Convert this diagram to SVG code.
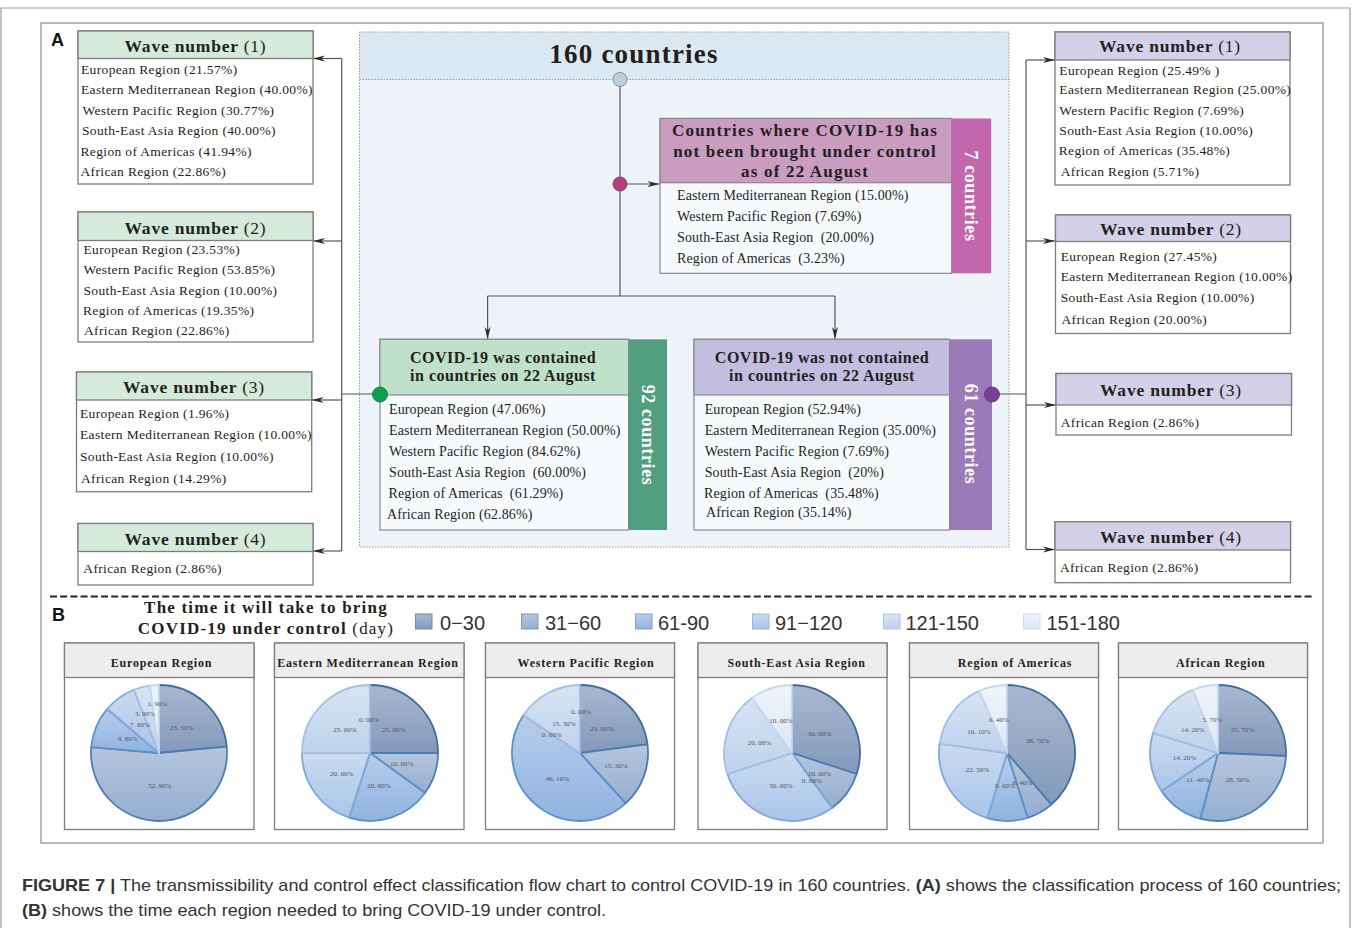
<svg xmlns="http://www.w3.org/2000/svg" width="1357" height="928" viewBox="0 0 1357 928">
<defs>
<style>
.serif{font-family:"Liberation Serif","Times New Roman",serif;fill:#231f20}
.b13{font-size:13.5px;letter-spacing:0.35px}
.b14{font-size:14px;letter-spacing:0.12px}
.wt{font-size:17.5px;font-weight:bold;letter-spacing:0.8px;text-anchor:middle}
.nb{font-weight:normal}
.box{fill:#fff;stroke:#7d7d7d;stroke-width:1.3}
.hL{fill:#d4eada;stroke:#7d7d7d;stroke-width:1.3}
.hR{fill:#d3d0e8;stroke:#7d7d7d;stroke-width:1.3}
.con{fill:none;stroke:#555;stroke-width:1.2}
.side{font-family:"Liberation Serif","Times New Roman",serif;font-size:18px;font-weight:bold;fill:#fff;letter-spacing:0.6px;text-anchor:middle}
.ch{font-size:17px;font-weight:bold;letter-spacing:1.2px;text-anchor:middle}
.gh{font-size:16px;font-weight:bold;letter-spacing:0.5px;text-anchor:middle}
.ph{fill:#ededed;stroke:#7d7d7d;stroke-width:1.3}
.pb{fill:#fff;stroke:#7d7d7d;stroke-width:1.3}
.pt{font-size:12px;font-weight:bold;letter-spacing:0.8px;text-anchor:middle}
.pl{font-family:"Liberation Serif",serif;font-size:7px;fill:#555;text-anchor:middle}
.pie path{stroke-width:1.8;stroke-linejoin:round}
.s1{fill:url(#g1);stroke:#3f6d9e}
.s2{fill:url(#g2);stroke:#4a7db3}
.s3{fill:url(#g3);stroke:#5a90cc}
.s4{fill:url(#g4);stroke:#7ea7da}
.s5{fill:url(#g5);stroke:#a3bfe3}
.s6{fill:url(#g6);stroke:#c7d7ee}
.leg{font-family:"Liberation Sans",Arial,sans-serif;font-size:20px;fill:#333}
.cap{font-family:"Liberation Sans",Arial,sans-serif;font-size:17px;fill:#333}
</style>
<linearGradient id="g1" x1="0" y1="0" x2="0" y2="1"><stop offset="0" stop-color="#a9b8d0"/><stop offset="1" stop-color="#8399bb"/></linearGradient>
<linearGradient id="g2" x1="0" y1="0" x2="0" y2="1"><stop offset="0" stop-color="#b5c6dd"/><stop offset="1" stop-color="#95aed0"/></linearGradient>
<linearGradient id="g3" x1="0" y1="0" x2="0" y2="1"><stop offset="0" stop-color="#b7ceec"/><stop offset="1" stop-color="#90b3e0"/></linearGradient>
<linearGradient id="g4" x1="0" y1="0" x2="0" y2="1"><stop offset="0" stop-color="#cadbf0"/><stop offset="1" stop-color="#a9c5ea"/></linearGradient>
<linearGradient id="g5" x1="0" y1="0" x2="0" y2="1"><stop offset="0" stop-color="#d8e4f3"/><stop offset="1" stop-color="#bdd2ee"/></linearGradient>
<linearGradient id="g6" x1="0" y1="0" x2="0" y2="1"><stop offset="0" stop-color="#eff4fa"/><stop offset="1" stop-color="#dde7f5"/></linearGradient>
<marker id="arr" markerUnits="userSpaceOnUse" markerWidth="13" markerHeight="8" refX="12" refY="4" orient="auto">
<path d="M0,1 L12,4 L0,7 L3.5,4 Z" fill="#2b2b2b"/>
</marker>
</defs>

<rect x="0" y="0" width="1357" height="928" fill="#fff"/>
<path d="M1,928 V8 H1350 V928" fill="none" stroke="#9a9a9a" stroke-width="1.2"/>
<rect x="41" y="23" width="1282" height="820" fill="none" stroke="#a8a8a8" stroke-width="1.6"/>

<text x="51" y="46" font-family="Liberation Sans,Arial,sans-serif" font-size="18" font-weight="bold" fill="#111">A</text>
<text x="52" y="621" font-family="Liberation Sans,Arial,sans-serif" font-size="18" font-weight="bold" fill="#111">B</text>

<!-- Center container -->
<g id="root160">
<rect x="359.5" y="32" width="649.5" height="515" fill="#edf3f9"/>
<rect x="359.5" y="32" width="649.5" height="47.5" fill="#dce8f1"/>
<rect x="359.5" y="32" width="649.5" height="515" fill="none" stroke="#9a9a9a" stroke-width="1" stroke-dasharray="1.5,1.5"/>
<line x1="359.5" y1="79.5" x2="1009" y2="79.5" stroke="#9a9a9a" stroke-width="1" stroke-dasharray="1.5,1.5"/>
<text x="634" y="63" class="serif" font-size="27" font-weight="bold" letter-spacing="1.2" text-anchor="middle">160 countries</text>
</g>

<!-- Connectors -->
<g id="connectors">
<path class="con" d="M620,80 V296"/>
<path class="con" d="M487.6,296 H835"/>
<path class="con" d="M487.6,296 V339" marker-end="url(#arr)"/>
<path class="con" d="M835,296 V339" marker-end="url(#arr)"/>
<path class="con" d="M620,184 H659.5" marker-end="url(#arr)"/>
<path class="con" d="M380,394 H341.7"/>
<path class="con" d="M341.7,58.5 V551"/>
<path class="con" d="M341.7,58.5 H313" marker-end="url(#arr)"/>
<path class="con" d="M341.7,241 H313" marker-end="url(#arr)"/>
<path class="con" d="M341.7,400 H311.7" marker-end="url(#arr)"/>
<path class="con" d="M341.7,551 H313" marker-end="url(#arr)"/>
<path class="con" d="M992,394 H1026"/>
<path class="con" d="M1026,60 V549.5"/>
<path class="con" d="M1026,60 H1055" marker-end="url(#arr)"/>
<path class="con" d="M1026,241 H1055" marker-end="url(#arr)"/>
<path class="con" d="M1026,405 H1056" marker-end="url(#arr)"/>
<path class="con" d="M1026,549.5 H1055" marker-end="url(#arr)"/>
</g>

<!-- Not controlled box -->
<g id="notcontrolled">
<rect x="660" y="118.5" width="291.7" height="154.8" fill="#f7fafc" stroke="#8a8a8a" stroke-width="1.2"/>
<rect x="660" y="118.5" width="291.7" height="64.2" fill="#c99cc0" stroke="#8a8a8a" stroke-width="1.2"/>
<rect x="951.7" y="118.5" width="39.5" height="154.8" fill="#c266ad"/>
<text class="serif ch" x="805" y="135.5">Countries where COVID-19 has</text>
<text class="serif ch" x="805" y="156.5">not been brought under control</text>
<text class="serif ch" x="805" y="176.7">as of 22 August</text>
<text class="serif b14" x="677" y="200">Eastern Mediterranean Region (15.00%)</text>
<text class="serif b14" x="677" y="221">Western Pacific Region (7.69%)</text>
<text class="serif b14" x="677" y="241.7" xml:space="preserve">South-East Asia Region  (20.00%)</text>
<text class="serif b14" x="677" y="262.7" xml:space="preserve">Region of Americas  (3.23%)</text>
<text class="side" transform="translate(971.5,196) rotate(90)" y="6.3">7 countries</text>
</g>

<!-- Contained box -->
<g id="contained">
<rect x="380" y="339.3" width="248.6" height="190.7" fill="#f7fafc" stroke="#8a8a8a" stroke-width="1.2"/>
<rect x="380" y="339.3" width="248.6" height="55.7" fill="#bfe0c9" stroke="#8a8a8a" stroke-width="1.2"/>
<rect x="628.6" y="339.3" width="38.4" height="190.7" fill="#519e80"/>
<text class="serif gh" x="503" y="362.7">COVID-19 was contained</text>
<text class="serif gh" x="503" y="380.5">in countries on 22 August</text>
<text class="serif b14" x="389" y="414.3">European Region (47.06%)</text>
<text class="serif b14" x="389" y="435.3">Eastern Mediterranean Region (50.00%)</text>
<text class="serif b14" x="389" y="456">Western Pacific Region (84.62%)</text>
<text class="serif b14" x="389" y="476.7" xml:space="preserve">South-East Asia Region  (60.00%)</text>
<text class="serif b14" x="388.5" y="497.7" xml:space="preserve">Region of Americas  (61.29%)</text>
<text class="serif b14" x="387" y="519.3">African Region (62.86%)</text>
<text class="side" transform="translate(648,435) rotate(90)" y="6.3">92 countries</text>
<circle cx="380" cy="394.5" r="7.5" fill="#0f9e4e" stroke="#0b6e37" stroke-width="0.8"/>
</g>

<!-- Not contained box -->
<g id="notcontained">
<rect x="694" y="339.3" width="255.6" height="190.7" fill="#f7fafc" stroke="#8a8a8a" stroke-width="1.2"/>
<rect x="694" y="339.3" width="255.6" height="55.7" fill="#c3bde0" stroke="#8a8a8a" stroke-width="1.2"/>
<rect x="949.6" y="339.3" width="42.4" height="190.7" fill="#9a7ab9"/>
<text class="serif gh" x="822" y="362.7">COVID-19 was not contained</text>
<text class="serif gh" x="822" y="380.5">in countries on 22 August</text>
<text class="serif b14" x="704.7" y="414.3">European Region (52.94%)</text>
<text class="serif b14" x="704.7" y="435.3">Eastern Mediterranean Region (35.00%)</text>
<text class="serif b14" x="704.7" y="456">Western Pacific Region (7.69%)</text>
<text class="serif b14" x="704.7" y="476.7" xml:space="preserve">South-East Asia Region  (20%)</text>
<text class="serif b14" x="704" y="497.7" xml:space="preserve">Region of Americas  (35.48%)</text>
<text class="serif b14" x="706" y="516.7">African Region (35.14%)</text>
<text class="side" transform="translate(971,434) rotate(90)" y="6.3">61 countries</text>
<circle cx="992" cy="394.5" r="7.5" fill="#7b3f98" stroke="#55296b" stroke-width="0.8"/>
</g>

<g id="dots">
<circle cx="620" cy="79.5" r="7" fill="#b9cfe0" stroke="#7f8f9f" stroke-width="1"/>
<circle cx="620" cy="184" r="7" fill="#b0417f" stroke="#7d2c59" stroke-width="0.8"/>
</g>

<!-- Left waves -->
<g id="waveL1">
<rect class="box" x="78" y="31" width="235" height="153"/>
<rect class="hL" x="78" y="31" width="235" height="27.5"/>
<text class="serif wt" x="195.5" y="52"><tspan>Wave number </tspan><tspan class="nb">(1)</tspan></text>
<text class="serif b13" x="81" y="74">European Region (21.57%)</text>
<text class="serif b13" x="81" y="94">Eastern Mediterranean Region (40.00%)</text>
<text class="serif b13" x="82.5" y="114.5">Western Pacific Region (30.77%)</text>
<text class="serif b13" x="82" y="135">South-East Asia Region (40.00%)</text>
<text class="serif b13" x="80.5" y="155.5">Region of Americas (41.94%)</text>
<text class="serif b13" x="80.5" y="176">African Region (22.86%)</text>
</g>
<g id="waveL2">
<rect class="box" x="78" y="212" width="235" height="130"/>
<rect class="hL" x="78" y="212" width="235" height="28.5"/>
<text class="serif wt" x="195.5" y="233.5"><tspan>Wave number </tspan><tspan class="nb">(2)</tspan></text>
<text class="serif b13" x="83.5" y="254.3">European Region (23.53%)</text>
<text class="serif b13" x="83.5" y="274.3">Western Pacific Region (53.85%)</text>
<text class="serif b13" x="83.5" y="294.5">South-East Asia Region (10.00%)</text>
<text class="serif b13" x="83" y="315">Region of Americas (19.35%)</text>
<text class="serif b13" x="84" y="335.3">African Region (22.86%)</text>
</g>
<g id="waveL3">
<rect class="box" x="76.5" y="372" width="235.2" height="119.7"/>
<rect class="hL" x="76.5" y="372" width="235.2" height="28"/>
<text class="serif wt" x="194" y="393.3"><tspan>Wave number </tspan><tspan class="nb">(3)</tspan></text>
<text class="serif b13" x="80" y="418.3">European Region (1.96%)</text>
<text class="serif b13" x="80" y="438.5">Eastern Mediterranean Region (10.00%)</text>
<text class="serif b13" x="80" y="461">South-East Asia Region (10.00%)</text>
<text class="serif b13" x="81" y="482.7">African Region (14.29%)</text>
</g>
<g id="waveL4">
<rect class="box" x="78" y="523.5" width="235" height="61.5"/>
<rect class="hL" x="78" y="523.5" width="235" height="28"/>
<text class="serif wt" x="195.5" y="545"><tspan>Wave number </tspan><tspan class="nb">(4)</tspan></text>
<text class="serif b13" x="83.3" y="572.7">African Region (2.86%)</text>
</g>

<!-- Right waves -->
<g id="waveR1">
<rect class="box" x="1055" y="32" width="235" height="153"/>
<rect class="hR" x="1055" y="32" width="235" height="28"/>
<text class="serif wt" x="1170" y="52"><tspan>Wave number </tspan><tspan class="nb">(1)</tspan></text>
<text class="serif b13" x="1059.3" y="75">European Region (25.49% )</text>
<text class="serif b13" x="1059.3" y="94.3">Eastern Mediterranean Region (25.00%)</text>
<text class="serif b13" x="1059.3" y="114.5">Western Pacific Region (7.69%)</text>
<text class="serif b13" x="1059.3" y="135">South-East Asia Region (10.00%)</text>
<text class="serif b13" x="1058.7" y="155.3">Region of Americas (35.48%)</text>
<text class="serif b13" x="1060.7" y="175.7">African Region (5.71%)</text>
</g>
<g id="waveR2">
<rect class="box" x="1055.5" y="215" width="235" height="118.5"/>
<rect class="hR" x="1055.5" y="215" width="235" height="26.5"/>
<text class="serif wt" x="1171" y="235"><tspan>Wave number </tspan><tspan class="nb">(2)</tspan></text>
<text class="serif b13" x="1060.7" y="260.7">European Region (27.45%)</text>
<text class="serif b13" x="1060.7" y="281">Eastern Mediterranean Region (10.00%)</text>
<text class="serif b13" x="1060.7" y="301.7">South-East Asia Region (10.00%)</text>
<text class="serif b13" x="1061.5" y="324">African Region (20.00%)</text>
</g>
<g id="waveR3">
<rect class="box" x="1056" y="373.5" width="235.5" height="61.5"/>
<rect class="hR" x="1056" y="373.5" width="235.5" height="31.5"/>
<text class="serif wt" x="1171" y="396"><tspan>Wave number </tspan><tspan class="nb">(3)</tspan></text>
<text class="serif b13" x="1060.7" y="427.3">African Region (2.86%)</text>
</g>
<g id="waveR4">
<rect class="box" x="1055" y="521.7" width="235.5" height="61"/>
<rect class="hR" x="1055" y="521.7" width="235.5" height="28.3"/>
<text class="serif wt" x="1171" y="543.3"><tspan>Wave number </tspan><tspan class="nb">(4)</tspan></text>
<text class="serif b13" x="1060" y="572.3">African Region (2.86%)</text>
</g>

<line x1="50" y1="596.5" x2="1313" y2="596.5" stroke="#222" stroke-width="1.8" stroke-dasharray="7,3.2"/>

<!-- Legend -->
<g id="legend">
<text class="serif" font-size="17" font-weight="bold" letter-spacing="1.2" text-anchor="middle" x="266" y="613">The time it will take to bring</text>
<text class="serif" font-size="17" font-weight="bold" letter-spacing="1.2" text-anchor="middle" x="266" y="634"><tspan>COVID-19 under control </tspan><tspan class="nb">(day)</tspan></text>
<rect x="415.5" y="614" width="16.5" height="15" fill="url(#g1)" stroke="#6f87aa" stroke-width="1"/>
<text class="leg" x="440" y="630">0−30</text>
<rect x="521.5" y="614" width="16.5" height="15" fill="url(#g2)" stroke="#7e98be" stroke-width="1"/>
<text class="leg" x="545" y="630">31−60</text>
<rect x="635.5" y="614" width="16.5" height="15" fill="url(#g3)" stroke="#7ea3d4" stroke-width="1"/>
<text class="leg" x="658" y="630">61-90</text>
<rect x="752.5" y="614" width="16.5" height="15" fill="url(#g4)" stroke="#94b5de" stroke-width="1"/>
<text class="leg" x="775" y="630">91−120</text>
<rect x="883.5" y="614" width="16.5" height="15" fill="url(#g5)" stroke="#afc6e6" stroke-width="1"/>
<text class="leg" x="905.5" y="630">121-150</text>
<rect x="1023.5" y="614" width="16.5" height="15" fill="url(#g6)" stroke="#cfdcee" stroke-width="1"/>
<text class="leg" x="1046.5" y="630">151-180</text>
</g>

<!-- Pie: European -->
<g id="pieEuropean" class="pie">
<rect class="pb" x="64.5" y="643" width="189.5" height="186.5"/>
<rect class="ph" x="64.5" y="643" width="189.5" height="34.5"/>
<text class="serif pt" x="161.5" y="667">European Region</text>
<path class="s1" d="M159,753 L159,685 A68,68 0 0 1 226.70,746.60 Z"/>
<path class="s2" d="M159,753 L226.70,746.60 A68,68 0 1 1 91.26,747.03 Z"/>
<path class="s3" d="M159,753 L91.26,747.03 A68,68 0 0 1 107.16,708.99 Z"/>
<path class="s4" d="M159,753 L107.16,708.99 A68,68 0 0 1 133.97,689.77 Z"/>
<path class="s5" d="M159,753 L133.97,689.77 A68,68 0 0 1 150.05,685.59 Z"/>
<path class="s6" d="M159,753 L150.05,685.59 A68,68 0 0 1 159,685 Z"/>
<text class="pl" x="181.7" y="729.6">23. 50%</text>
<text class="pl" x="160" y="788">52. 90%</text>
<text class="pl" x="127.7" y="741">9. 80%</text>
<text class="pl" x="140" y="726.6">7. 80%</text>
<text class="pl" x="145" y="716.3">3. 90%</text>
<text class="pl" x="157.3" y="706">1. 90%</text>
</g>

<!-- Pie: Eastern Mediterranean -->
<g id="pieEM" class="pie">
<rect class="pb" x="274.5" y="643" width="189.5" height="186.5"/>
<rect class="ph" x="274.5" y="643" width="189.5" height="34.5"/>
<text class="serif pt" x="368" y="667">Eastern Mediterranean Region</text>
<path class="s1" d="M370,753 L370,685 A68,68 0 0 1 438,753 Z"/>
<path class="s2" d="M370,753 L438,753 A68,68 0 0 1 425.01,792.97 Z"/>
<path class="s3" d="M370,753 L425.01,792.97 A68,68 0 0 1 348.99,817.67 Z"/>
<path class="s4" d="M370,753 L348.99,817.67 A68,68 0 0 1 302,753 Z"/>
<path class="s5" d="M370,753 L302,753 A68,68 0 0 1 370,685 Z"/>
<text class="pl" x="393.3" y="731.6">25. 00%</text>
<text class="pl" x="401.7" y="766.3">10. 00%</text>
<text class="pl" x="379" y="788">20. 00%</text>
<text class="pl" x="341.7" y="775.6">20. 00%</text>
<text class="pl" x="345" y="731.6">25. 00%</text>
<text class="pl" x="369" y="721.6">0. 00%</text>
</g>

<!-- Pie: Western Pacific -->
<g id="pieWP" class="pie">
<rect class="pb" x="485.5" y="643" width="189" height="186.5"/>
<rect class="ph" x="485.5" y="643" width="189" height="34.5"/>
<text class="serif pt" x="586" y="667">Western Pacific Region</text>
<path class="s1" d="M580,753 L580,685 A68,68 0 0 1 647.46,744.48 Z"/>
<path class="s2" d="M580,753 L647.46,744.48 A68,68 0 0 1 625.61,803.44 Z"/>
<path class="s3" d="M580,753 L625.61,803.44 A68,68 0 0 1 523.53,715.12 Z"/>
<path class="s5" d="M580,753 L523.53,715.12 A68,68 0 0 1 580,685 Z"/>
<text class="pl" x="601.7" y="730.6">23. 00%</text>
<text class="pl" x="616" y="768">15. 30%</text>
<text class="pl" x="557.3" y="780.6">46. 10%</text>
<text class="pl" x="551.7" y="736.6">0. 00%</text>
<text class="pl" x="564" y="725.6">15. 30%</text>
<text class="pl" x="581" y="714">0. 00%</text>
</g>

<!-- Pie: South-East Asia -->
<g id="pieSEA" class="pie">
<rect class="pb" x="698" y="643" width="189" height="186.5"/>
<rect class="ph" x="698" y="643" width="189" height="34.5"/>
<text class="serif pt" x="796.7" y="667">South-East Asia Region</text>
<path class="s1" d="M792,753 L792,685 A68,68 0 0 1 856.67,774.01 Z"/>
<path class="s2" d="M792,753 L856.67,774.01 A68,68 0 0 1 831.97,808.01 Z"/>
<path class="s4" d="M792,753 L831.97,808.01 A68,68 0 0 1 727.33,774.01 Z"/>
<path class="s5" d="M792,753 L727.33,774.01 A68,68 0 0 1 752.03,697.99 Z"/>
<path class="s6" d="M792,753 L752.03,697.99 A68,68 0 0 1 792,685 Z"/>
<text class="pl" x="819.3" y="736.3">30. 00%</text>
<text class="pl" x="819.3" y="775.6">10. 00%</text>
<text class="pl" x="811.7" y="783.3">0. 00%</text>
<text class="pl" x="781" y="788">30. 00%</text>
<text class="pl" x="759.3" y="745">20. 00%</text>
<text class="pl" x="781" y="723.3">10. 00%</text>
</g>

<!-- Pie: Region of Americas -->
<g id="pieAmericas" class="pie">
<rect class="pb" x="909.5" y="643" width="189" height="186.5"/>
<rect class="ph" x="909.5" y="643" width="189" height="34.5"/>
<text class="serif pt" x="1015" y="667">Region of Americas</text>
<path class="s1" d="M1007,753 L1007,685 A68,68 0 0 1 1051.33,804.57 Z"/>
<path class="s2" d="M1007,753 L1051.33,804.57 A68,68 0 0 1 1027.61,817.80 Z"/>
<path class="s3" d="M1007,753 L1027.61,817.80 A68,68 0 0 1 987.21,818.06 Z"/>
<path class="s4" d="M1007,753 L987.21,818.06 A68,68 0 0 1 939.65,743.63 Z"/>
<path class="s5" d="M1007,753 L939.65,743.63 A68,68 0 0 1 979.21,690.94 Z"/>
<path class="s6" d="M1007,753 L979.21,690.94 A68,68 0 0 1 1007,685 Z"/>
<text class="pl" x="1037.7" y="743">38. 70%</text>
<text class="pl" x="1022.3" y="784.6">6. 40%</text>
<text class="pl" x="1005" y="788.3">9. 60%</text>
<text class="pl" x="977.3" y="772.3">22. 50%</text>
<text class="pl" x="979" y="734">16. 10%</text>
<text class="pl" x="999" y="721.6">6. 40%</text>
</g>

<!-- Pie: African -->
<g id="pieAfrican" class="pie">
<rect class="pb" x="1118.5" y="643" width="189" height="186.5"/>
<rect class="ph" x="1118.5" y="643" width="189" height="34.5"/>
<text class="serif pt" x="1220.7" y="667">African Region</text>
<path class="s1" d="M1218,753 L1218,685 A68,68 0 0 1 1285.93,755.99 Z"/>
<path class="s2" d="M1218,753 L1285.93,755.99 A68,68 0 0 1 1200.26,818.65 Z"/>
<path class="s3" d="M1218,753 L1200.26,818.65 A68,68 0 0 1 1161.53,790.88 Z"/>
<path class="s4" d="M1218,753 L1161.53,790.88 A68,68 0 0 1 1153.07,732.80 Z"/>
<path class="s5" d="M1218,753 L1153.07,732.80 A68,68 0 0 1 1192.97,689.77 Z"/>
<path class="s6" d="M1218,753 L1192.97,689.77 A68,68 0 0 1 1218,685 Z"/>
<text class="pl" x="1242.3" y="731.6">25. 70%</text>
<text class="pl" x="1237.3" y="782.3">28. 50%</text>
<text class="pl" x="1197.7" y="781.6">11. 40%</text>
<text class="pl" x="1184.3" y="759.6">14. 20%</text>
<text class="pl" x="1192.7" y="732.3">14. 20%</text>
<text class="pl" x="1212.3" y="721.6">5. 70%</text>
</g>

<!-- Caption -->
<g id="caption">
<text class="cap" x="22" y="891" textLength="1319" lengthAdjust="spacingAndGlyphs"><tspan font-weight="bold">FIGURE 7 |</tspan> The transmissibility and control effect classification flow chart to control COVID-19 in 160 countries. <tspan font-weight="bold">(A)</tspan> shows the classification process of 160 countries;</text>
<text class="cap" x="22" y="916" textLength="584" lengthAdjust="spacingAndGlyphs"><tspan font-weight="bold">(B)</tspan> shows the time each region needed to bring COVID-19 under control.</text>
</g>
</svg>
